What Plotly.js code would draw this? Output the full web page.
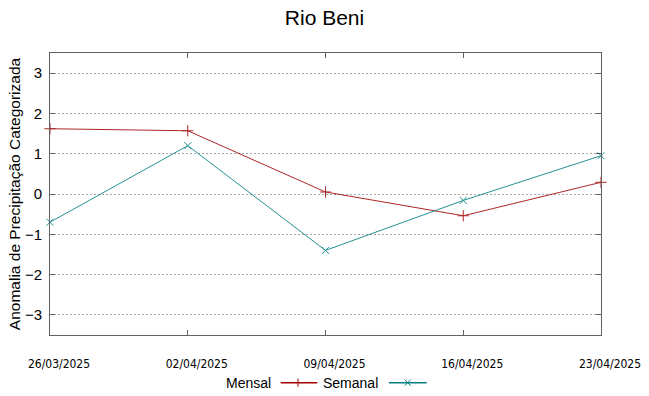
<!DOCTYPE html>
<html>
<head>
<meta charset="utf-8">
<script src="https://cdn.plot.ly/plotly-3.0.1.min.js"></script>
<style>html,body{margin:0;padding:0;background:#fff;}#chart{width:649px;height:396px;}</style>
</head>
<body>
<div id="chart"></div>
<script>
const dates = ['2025-03-26', '2025-04-02', '2025-04-09', '2025-04-16', '2025-04-23'];
const tickLabels = ['26/03/2025', '02/04/2025', '09/04/2025', '16/04/2025', '23/04/2025'];
const mensal = [1.62, 1.57, 0.05, -0.54, 0.29];
const semanal = [-0.70, 1.20, -1.40, -0.16, 0.95];
const yTicks = [-3, -2, -1, 0, 1, 2, 3];

const red = '#a00000';
const teal = '#008080';

const traces = [
  {x: dates, y: mensal, name: 'Mensal', type: 'scatter', mode: 'lines+markers',
   line: {color: red, width: 1}, cliponaxis: false, opacity: 0.85,
   marker: {symbol: 'cross-thin-open', size: 8, color: red, line: {color: red, width: 1}}},
  {x: dates, y: semanal, name: 'Semanal', type: 'scatter', mode: 'lines+markers',
   line: {color: teal, width: 1}, cliponaxis: false, opacity: 0.85,
   marker: {symbol: 'x-thin-open', size: 7, color: teal, line: {color: teal, width: 1}}}
];

const legY = -0.169;
function legLine(x0, x1, c) {
  return {type: 'line', xref: 'paper', yref: 'paper', x0: x0, x1: x1, y0: legY, y1: legY, line: {color: c, width: 1.5}};
}
function pixLine(xc, dx0, dy0, dx1, dy1, c) {
  return {type: 'line', xref: 'paper', yref: 'paper', xsizemode: 'pixel', ysizemode: 'pixel',
    xanchor: xc, yanchor: legY, x0: dx0, x1: dx1, y0: dy0, y1: dy1, line: {color: c, width: 1}};
}
const shapes = [
  legLine(0.4187, 0.4851, red),
  pixLine(0.4501, 0, -4, 0, 4, red),
  legLine(0.6152, 0.6837, teal),
  pixLine(0.6492, -3, -3, 3, 3, teal),
  pixLine(0.6492, -3, 3, 3, -3, teal)
];

const layout = {
  width: 649, height: 396,
  margin: {l: 50, r: 48, t: 53, b: 61},
  paper_bgcolor: '#fff', plot_bgcolor: '#fff',
  font: {family: 'Liberation Sans, Arial, sans-serif', color: '#000'},
  title: {text: 'Rio Beni', x: 0.5, xanchor: 'center', y: 0.9545, yref: 'container', yanchor: 'middle',
    font: {size: 21, color: '#000', family: 'Liberation Sans, Arial, sans-serif'}},
  showlegend: false,
  xaxis: {type: 'date', range: [dates[0], dates[dates.length - 1]],
    tickvals: dates, ticktext: tickLabels,
    ticks: 'inside', ticklen: 5, tickcolor: '#606060', tickwidth: 1,
    showline: true, linecolor: '#606060', linewidth: 1, mirror: 'ticks',
    showgrid: false, zeroline: false,
    ticklabelstandoff: 18, ticklabelshift: 9,
    tickfont: {family: 'Liberation Sans Narrow, DejaVu Sans Condensed, sans-serif', size: 12, color: '#000'}},
  yaxis: {range: [-3.5, 3.5], tickvals: yTicks,
    ticks: 'inside', ticklen: 5, tickcolor: '#606060', tickwidth: 1,
    showline: true, linecolor: '#606060', linewidth: 1, mirror: 'ticks',
    showgrid: true, gridcolor: '#a8a8a8', griddash: '2px,2px', gridwidth: 1,
    zeroline: false,
    ticklabelstandoff: 4,
    tickfont: {size: 15, color: '#000'},
    title: {text: 'Anomalia de Precipitação Categorizada', standoff: 0, font: {size: 15.5, color: '#000'}}},
  shapes: shapes,
  annotations: [
    {text: 'Mensal', xref: 'paper', yref: 'paper', x: 0.4042, y: legY, xanchor: 'right', yanchor: 'middle',
     showarrow: false, font: {size: 14, color: '#000'}},
    {text: 'Semanal', xref: 'paper', yref: 'paper', x: 0.5989, y: legY, xanchor: 'right', yanchor: 'middle',
     showarrow: false, font: {size: 14, color: '#000'}}
  ]
};

Plotly.newPlot('chart', traces, layout, {displayModeBar: false, staticPlot: true});
</script>
</body>
</html>
